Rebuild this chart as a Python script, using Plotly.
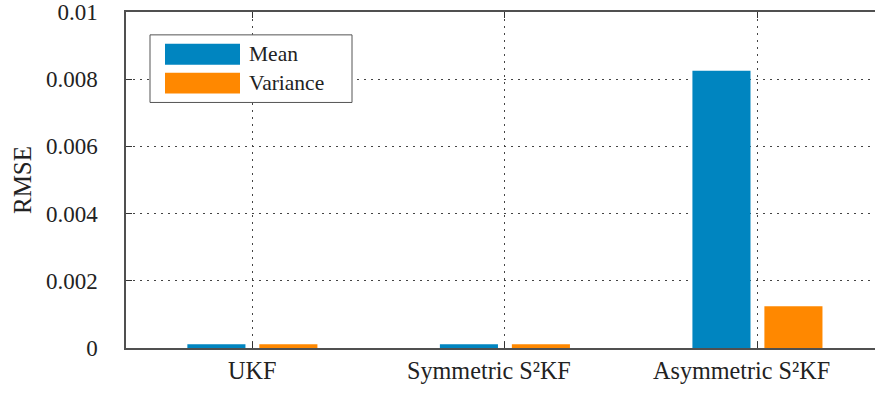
import plotly.graph_objects as go

# RMSE of the estimated mean and variance for each filter
filters = ["UKF", "Symmetric S²KF", "Asymmetric S²KF"]
mean_rmse = [0.00011, 0.00011, 0.00825]
variance_rmse = [0.00011, 0.00011, 0.00124]

y_ticks = [0, 0.002, 0.004, 0.006, 0.008, 0.01]
y_tick_text = ["0", "0.002", "0.004", "0.006", "0.008", "0.01"]

BLUE = "#0085c0"
ORANGE = "#ff8800"
FONT = "Liberation Serif"
TEXT = "#222222"

W, H = 875, 394
L, R, T, B = 126, 0, 10, 46

BAR_W = 0.23

fig = go.Figure()
fig.add_trace(go.Bar(name="Mean", x=filters, y=mean_rmse, marker_color=BLUE,
                     marker_line_width=0, width=BAR_W, offset=-0.257))
fig.add_trace(go.Bar(name="Variance", x=filters, y=variance_rmse, marker_color=ORANGE,
                     marker_line_width=0, width=BAR_W, offset=0.028))

axis_common = dict(
    showline=True, linecolor="#505050", linewidth=1.5,
    showgrid=True, gridcolor="#444444", griddash="2px,5px", gridwidth=1,
    ticks="inside", tickcolor="#333333", tickwidth=1, ticklen=6,
    zeroline=False, ticklabeloverflow="allow",
)

fig.update_layout(
    width=W, height=H,
    margin=dict(l=L, r=R, t=T, b=B, pad=0),
    paper_bgcolor="white", plot_bgcolor="white",
    barmode="overlay",
    showlegend=False,
    font=dict(family=FONT, color=TEXT),
    xaxis=dict(axis_common, range=[-0.5, 2.466], mirror="ticks",
               showticklabels=False),
    yaxis=dict(axis_common, range=[0, 0.01], tickvals=y_ticks, ticktext=y_tick_text,
               ticklabelstandoff=22,
               tickfont=dict(family=FONT, size=23, color=TEXT),
               title=dict(text="RMSE", font=dict(family=FONT, size=25, color=TEXT),
                          standoff=7)),
)

# Paper pixel coords converted to fractions
pw, ph = W - L - R, H - T - B


def px(x):
    return (x - L) / pw


def py(y):
    return 1 - (y - T) / ph


# Category labels under the axis; the two long names sit slightly left of their tick
label_shift = [0, -16, -16]
for name, shift in zip(filters, label_shift):
    fig.add_annotation(xref="x", yref="paper", x=name, y=py(371), xshift=shift,
                       text=name, showarrow=False, xanchor="center", yanchor="middle",
                       font=dict(family=FONT, size=24.2, color=TEXT))

# Legend box with wide colour swatches
fig.add_shape(type="rect", xref="paper", yref="paper",
              x0=px(150), x1=px(352), y0=py(101), y1=py(33),
              line=dict(color="#555555", width=1), fillcolor="white", layer="above")
entries = [("Mean", BLUE, 42, 63), ("Variance", ORANGE, 71, 92)]
for label, color, y0, y1 in entries:
    fig.add_shape(type="rect", xref="paper", yref="paper",
                  x0=px(165), x1=px(240), y0=py(y1), y1=py(y0),
                  line=dict(width=0), fillcolor=color, layer="above")
    fig.add_annotation(xref="paper", yref="paper", x=px(247), y=py((y0 + y1) / 2),
                       text=label, showarrow=False, xanchor="left", yanchor="middle",
                       font=dict(family=FONT, size=21.5, color=TEXT))

fig.write_html("out.html")
